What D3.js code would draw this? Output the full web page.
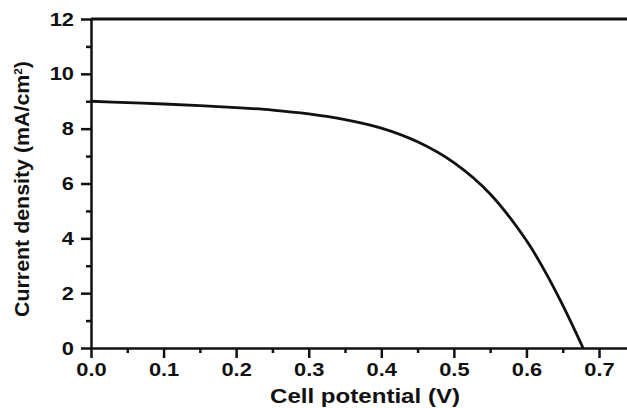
<!DOCTYPE html>
<html>
<head>
<meta charset="utf-8">
<script src="https://cdn.jsdelivr.net/npm/d3@7"></script>
<style>
  body { margin: 0; background: #fff; }
  text { font-family: "Liberation Sans", Arial, sans-serif; font-weight: bold; fill: #111; }
</style>
</head>
<body>
<div id="chart"></div>
<script>
// J-V curve
var potential = [0, 0.05, 0.1, 0.15, 0.2, 0.25, 0.3, 0.35, 0.4, 0.45, 0.5, 0.55, 0.6, 0.625, 0.65, 0.678];
var density   = [9.0, 8.95, 8.90, 8.84, 8.77, 8.68, 8.54, 8.33, 8.02, 7.52, 6.76, 5.62, 3.92, 2.82, 1.56, 0];
var xTicks = [0, 0.1, 0.2, 0.3, 0.4, 0.5, 0.6, 0.7];
var yTicks = [0, 2, 4, 6, 8, 10, 12];

var width = 627, height = 408;
var m = {top: 19, right: 0, bottom: 60, left: 91};

var svg = d3.select("#chart")
  .append("svg")
  .attr("width", width)
  .attr("height", height);

var x = d3.scaleLinear().domain([0, 0.7 + (width - 599) / 72.6 * 0.1]).range([m.left, width]);
var y = d3.scaleLinear().domain([0, 12]).range([348, m.top]);

// minor ticks
var xMinor = d3.range(0.05, 0.75, 0.1);
var yMinor = d3.range(1, 12, 2);

svg.append("g")
  .attr("class", "axis")
  .attr("transform", "translate(0," + y(0) + ")")
  .call(d3.axisBottom(x).tickValues(xTicks).tickFormat(d3.format(".1f")).tickSizeInner(10).tickSizeOuter(0).tickPadding(5));

svg.append("g")
  .attr("transform", "translate(0," + y(0) + ")")
  .call(d3.axisBottom(x).tickValues(xMinor).tickFormat("").tickSizeInner(5).tickSizeOuter(0))
  .select(".domain").remove();

svg.append("g")
  .attr("class", "axis")
  .attr("transform", "translate(" + x(0) + ",0)")
  .call(d3.axisLeft(y).tickValues(yTicks).tickSizeInner(10).tickSizeOuter(0).tickPadding(7));

svg.append("g")
  .attr("transform", "translate(" + x(0) + ",0)")
  .call(d3.axisLeft(y).tickValues(yMinor).tickFormat("").tickSizeInner(5).tickSizeOuter(0))
  .select(".domain").remove();

svg.selectAll(".domain, .tick line")
  .attr("stroke", "#111")
  .attr("stroke-width", 2.5);

// the original lettering is a little wider than Liberation
svg.selectAll(".axis .tick text")
  .attr("fill", "#111")
  .style("font-size", "19px")
  .style("font-weight", "bold")
  .each(function() {
    var w = this.getComputedTextLength();
    d3.select(this).attr("textLength", w * 1.15).attr("lengthAdjust", "spacingAndGlyphs");
  });

// top frame line
svg.append("line")
  .attr("x1", x(0)).attr("x2", width)
  .attr("y1", y(12)).attr("y2", y(12))
  .attr("stroke", "#111")
  .attr("stroke-width", 3);

var line = d3.line()
  .x(function(d, i) { return x(potential[i]); })
  .y(function(d) { return y(d); })
  .curve(d3.curveCatmullRom.alpha(0.5));

svg.append("path")
  .datum(density)
  .attr("d", line)
  .attr("fill", "none")
  .attr("stroke", "#111")
  .attr("stroke-width", 2.8);

// axis titles
svg.append("text")
  .attr("x", 365)
  .attr("y", 403)
  .attr("text-anchor", "middle")
  .attr("textLength", 190)
  .attr("lengthAdjust", "spacingAndGlyphs")
  .style("font-size", "20px")
  .text("Cell potential (V)");

var yt = svg.append("text")
  .attr("transform", "translate(29,189) rotate(-90)")
  .attr("text-anchor", "middle")
  .attr("textLength", 256)
  .attr("lengthAdjust", "spacingAndGlyphs")
  .style("font-size", "20px");
yt.append("tspan").text("Current density (mA/cm");
yt.append("tspan").attr("dy", -7).style("font-size", "11px").text("2");
yt.append("tspan").attr("dy", 7).text(")");
</script>
</body>
</html>
